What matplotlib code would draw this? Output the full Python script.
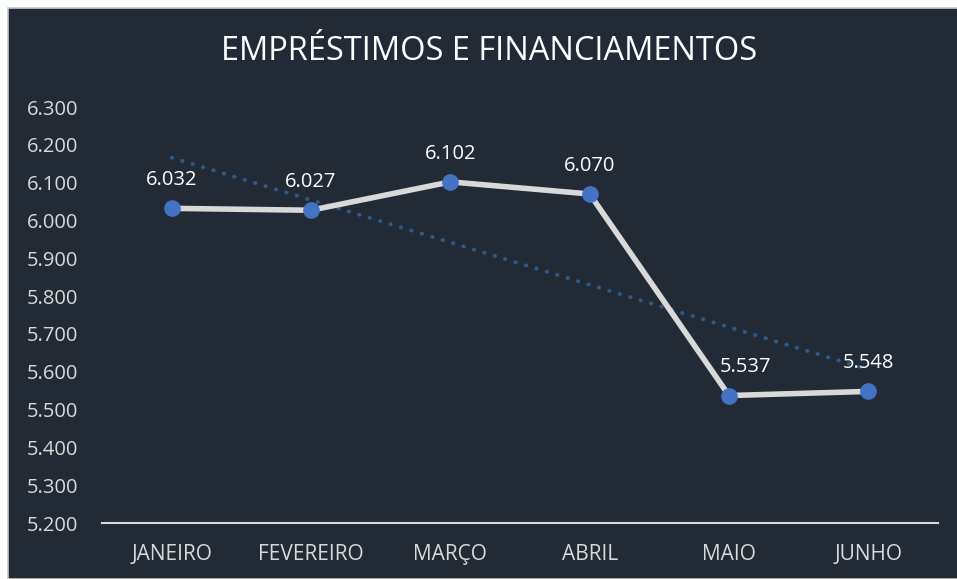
import numpy as np
import matplotlib
matplotlib.use("Agg")
import matplotlib.pyplot as plt
from matplotlib.patches import Rectangle
from matplotlib.ticker import FuncFormatter

meses = ["JANEIRO", "FEVEREIRO", "MARÇO", "ABRIL", "MAIO", "JUNHO"]
valores = [6032, 6027, 6102, 6070, 5537, 5548]
y_ticks = [5200, 5300, 5400, 5500, 5600, 5700, 5800, 5900, 6000, 6100, 6200, 6300]

BG = "#222a35"
LIGHT = "#d9d9d9"

plt.rcParams["font.family"] = ["Open Sans", "DejaVu Sans"]

fig = plt.figure(figsize=(9.57, 5.79), dpi=100)
fig.patch.set_facecolor("white")
fig.patches.append(Rectangle((8 / 957, 0), 1, 1 - 8 / 579, transform=fig.transFigure,
                             facecolor=BG, edgecolor="#c8c8c8", linewidth=1.2, zorder=-1))

ax = fig.add_axes([102 / 957, 1 - 523 / 579, (938 - 102) / 957, (523 - 107) / 579])
ax.set_facecolor("none")

x = np.arange(len(meses))
y = np.array(valores)

# linha de tendência (linear)
slope, intercept = np.polyfit(x, y, 1)
ax.plot(x, slope * x + intercept, linestyle=(0, (0.1, 2.7)), color="#2a5b8c",
        linewidth=2.8, dash_capstyle="round", zorder=2)

ax.plot(x, y, color=LIGHT, linewidth=4, zorder=3)
ax.plot(x, y, "o", color="#4472c4", markersize=11, zorder=4)

def fmt(v):
    return f"{v / 1000:.3f}"

# o rótulo de maio fica um pouco à direita para não cobrir a linha
dx = [0, 0, 0, 0, 12, 0]
for xi, yi, d in zip(x, y, dx):
    ax.annotate(fmt(yi), (xi, yi), xytext=(d, 13), textcoords="offset points",
                ha="center", va="bottom", color="white", fontsize=14.5, zorder=5)

ax.set_xlim(-0.5, len(meses) - 0.5)
ax.set_ylim(5200, 6300)
ax.set_yticks(y_ticks)
ax.yaxis.set_major_formatter(FuncFormatter(lambda v, p: fmt(v)))
ax.set_xticks(x)
ax.set_xticklabels(meses)
ax.tick_params(axis="y", length=0, pad=17, labelsize=14.5, labelcolor=LIGHT)
ax.tick_params(axis="x", length=0, pad=15, labelsize=15, labelcolor=LIGHT)

for s in ["top", "right", "left"]:
    ax.spines[s].set_visible(False)
ax.spines["bottom"].set_color(LIGHT)
ax.spines["bottom"].set_linewidth(1.5)

fig.text(489 / 957, 1 - 52 / 579, "EMPRÉSTIMOS E FINANCIAMENTOS", ha="center", va="center",
         color="white", fontsize=23.5)

fig.savefig("out.png", dpi=100, facecolor=fig.get_facecolor())
